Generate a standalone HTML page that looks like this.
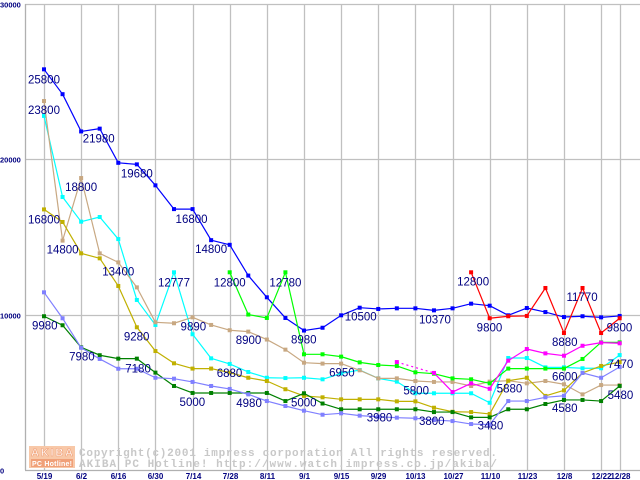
<!DOCTYPE html>
<html><head><meta charset="utf-8"><style>
html,body{margin:0;padding:0;background:#fff;}
svg{display:block;}
</style></head><body>
<svg id="chart" width="640" height="480" viewBox="0 0 640 480" xmlns="http://www.w3.org/2000/svg" font-family="'Liberation Sans', sans-serif">
<g id="grid"></g>
<g id="watermark">
  <rect x="29" y="446" width="46" height="22" fill="#f8c8a8"/>
  <text x="31" y="456" font-size="11" font-weight="bold" fill="#fff" stroke="#f0a078" stroke-width="0.6" textLength="42">AKIBA</text>
  <rect x="31" y="459" width="42" height="8" fill="#f0a078"/>
  <text x="32" y="466" font-size="7" font-weight="bold" fill="#fff" textLength="40">PC Hotline!</text>
  <text x="79" y="456" font-family="'Liberation Mono', monospace" font-size="11" font-weight="bold" fill="#c8c8c8" textLength="418">Copyright(c)2001 impress corporation All rights reserved.</text>
  <text x="79" y="467" font-family="'Liberation Mono', monospace" font-size="11" font-weight="bold" fill="#c8c8c8" textLength="418">AKIBA PC Hotline!  http://www.watch.impress.co.jp/akiba/</text>
</g>
<g id="series"></g>
<g id="labels"></g>
<g id="axes"></g>
</svg>
<script>
const N = 32;
const xTickIdx = [0,2,4,6,8,10,12,14,16,18,20,22,24,26,28,30,31];
const xTickLabels = ["5/19","6/2","6/16","6/30","7/14","7/28","8/11","9/1","9/15","9/29","10/13","10/27","11/10","11/23","12/8","12/22","12/28"];
const yTicks = [0,10000,20000,30000];
const seriesNames = ["blue","red","cyan","tan","olive","lime","magenta","darkgreen","lavender"];
const seriesColors = ["#0000ff","#ff0000","#00ffff","#c8a882","#c0b000","#00ff00","#ff00ff","#008000","#8080ff"];
const blueVals = [25800,24200,21800,21980,19780,19680,18330,16800,16800,14800,14500,12520,11120,9790,8980,9160,9960,10450,10370,10410,10410,10280,10410,10710,10580,9960,10430,10170,9850,9900,9830,9920];
const redVals = [null,null,null,null,null,null,null,null,null,null,null,null,null,null,null,null,null,null,null,null,null,null,null,12730,9770,9900,9920,11720,8820,11720,8820,9770];
const cyanVals = [22800,17580,15990,16290,14870,10950,9340,12730,8740,7190,6830,6310,5940,5920,5940,5840,6220,6440,5900,5690,4940,4940,4940,4940,4330,7210,7210,6610,6610,6550,6550,7400];
const tanVals = [23760,14770,18800,13950,13370,11760,9510,9450,9830,9340,9000,8910,8400,7750,6910,6850,6850,6420,5900,5900,5730,5670,5670,5410,5690,5750,5580,5730,5520,4870,5470,5470];
const oliveVals = [16780,15970,13950,13630,11850,9190,7660,6870,6530,6530,6270,5940,5730,5200,4770,4680,4550,4550,4550,4420,4420,4010,3750,3730,3610,5750,5940,4770,5130,6250,6700,6950];
const limeVals = [null,null,null,null,null,null,null,null,null,null,12730,10010,9790,12730,7450,7450,7300,6930,6760,6700,6290,6200,5900,5840,5580,6530,6530,6530,6530,7150,8220,8220];
const magentaVals = [null,null,null,null,null,null,null,null,null,null,null,null,null,null,null,null,null,null,null,6950,null,6250,5020,5580,5230,7040,7790,7510,7360,8000,8200,8160];
const dgreenVals = [9900,9320,7900,7390,7170,7170,6270,5410,4960,4960,4960,4960,4960,4440,4940,4280,3910,3910,3910,3910,3910,3730,3730,3390,3390,3910,3910,4250,4510,4510,4440,5410];
const lavVals = [11440,9770,7870,7150,6520,6520,5940,5880,5670,5410,5220,4870,4440,4120,3820,3560,3650,3500,3430,3370,3330,3220,3150,2960,2920,4440,4440,4680,4780,6250,5940,6630];
const allSeries = [blueVals,redVals,cyanVals,tanVals,oliveVals,limeVals,magentaVals,dgreenVals,lavVals];
// annotation texts: [series index, point index, text]
const annoSeries = [0,3,0,0,3,0,4,3,0,3,2,5,5,7,3,4,3,0,7,7,2,7,7,7,0,0,1,1,1,1,1,2,2,5,2,2,7,8,8,8,8];
const annoPoint  = [0,0,3,5,2,8,0,1,9,4,7,10,13,0,8,5,10,14,2,4,10,8,11,14,17,21,23,28,29,24,31,16,20,24,28,31,31,17,21,24,28];
const annoText   = ["25800","23800","21980","19680","18800","16800","16800","14800","14800","13400","12777","12800","12780","9980","9890","9280","8900","8980","7980","7180","6880","5000","4980","5000","10500","10370","12800","8880","11770","9800","9800","6950","5800","5880","6600","7470","5480","3980","3800","3480","4580"];
const annoDx = [-16,-16,-17,-16,-16,-17,-16,-16,-16,-16,-16,-16,-16,-12,-12,-13,6,-13,-12,7,-13,-13,-12,-13,-15,-15,-14,-12,-16,-13,-13,-12,-12,7,-12,-12,-12,7,-15,-12,-12];
const annoDy = [14,13,14,13,13,14,14,13,13,13,14,14,14,13,13,13,14,13,13,14,13,13,14,13,13,13,13,13,13,13,13,3,1,9,13,13,13,6,5,5,16];
const NS = "http://www.w3.org/2000/svg";
const X0 = 44, DX = 18.57, Y0 = 470, YS = 0.01553;
function xPos(i){ return X0 + i*DX; }
function yPos(v){ return Y0 - v*YS; }
function mk(tag, attrs, parent){ const e=document.createElementNS(NS,tag); for(const k in attrs) e.setAttribute(k,attrs[k]); parent.appendChild(e); return e; }
const grid=document.getElementById('grid'), axes=document.getElementById('axes'), ser=document.getElementById('series'), lab=document.getElementById('labels');
yTicks.forEach(function(t){
  const yy = Math.round(yPos(t))+0.5;
  if(t>0){ const l=mk('line',{x1:25,x2:640,y1:yy,y2:yy,stroke:'#c0c0c0','stroke-width':1.3},grid);
    
     }
  const tx=mk('text',{x:0,y:yy+3,'font-size':7.5,'font-weight':'bold',fill:'#000080'},axes);
  tx.textContent = String(t);
  
  
});
xTickIdx.forEach(function(idx,k){
  const xx = Math.round(xPos(idx))+0.5;
  const l=mk('line',{x1:xx,x2:xx,y1:4,y2:470,stroke:'#c0c0c0','stroke-width':1.3},grid);
  
  
  const tx=mk('text',{x:xx,y:479,'font-size':8,'font-weight':'bold',fill:'#000080','text-anchor':'middle'},axes);
  tx.textContent = xTickLabels[k];
  
  
});
const ya=mk('line',{x1:25.5,x2:25.5,y1:4,y2:470,stroke:'#b0b0b0','stroke-width':1.3},axes);


const xa=mk('line',{x1:25,x2:640,y1:470.5,y2:470.5,stroke:'#b0b0b0','stroke-width':1.3},axes);


allSeries.forEach(function(vals,s){
  const g=mk('g',{},ser);
  
  
  let prev=-1;
  for(let i=0;i<N;i++){
    if(vals[i]==null) continue;
    if(prev>=0){
      const ln=mk('line',{x1:xPos(prev),y1:yPos(vals[prev]),x2:xPos(i),y2:yPos(vals[i]),stroke:seriesColors[s],'stroke-width':1.2},g);
      if(i-prev>1) ln.setAttribute('stroke-dasharray','2,3');
      
      
    }
    const r=mk('rect',{x:xPos(i)-2,y:yPos(vals[i])-2,width:4,height:4,fill:seriesColors[s]},g);
    
    
    prev=i;
  }
});
for(let k=0;k<annoText.length;k++){
  const v = allSeries[annoSeries[k]][annoPoint[k]];
  const t=mk('text',{x:xPos(annoPoint[k])+annoDx[k],y:yPos(v)+annoDy[k],'font-size':11.5,fill:'#000080'},lab);
  t.textContent = annoText[k];
  
  
}
</script>
</body></html>
